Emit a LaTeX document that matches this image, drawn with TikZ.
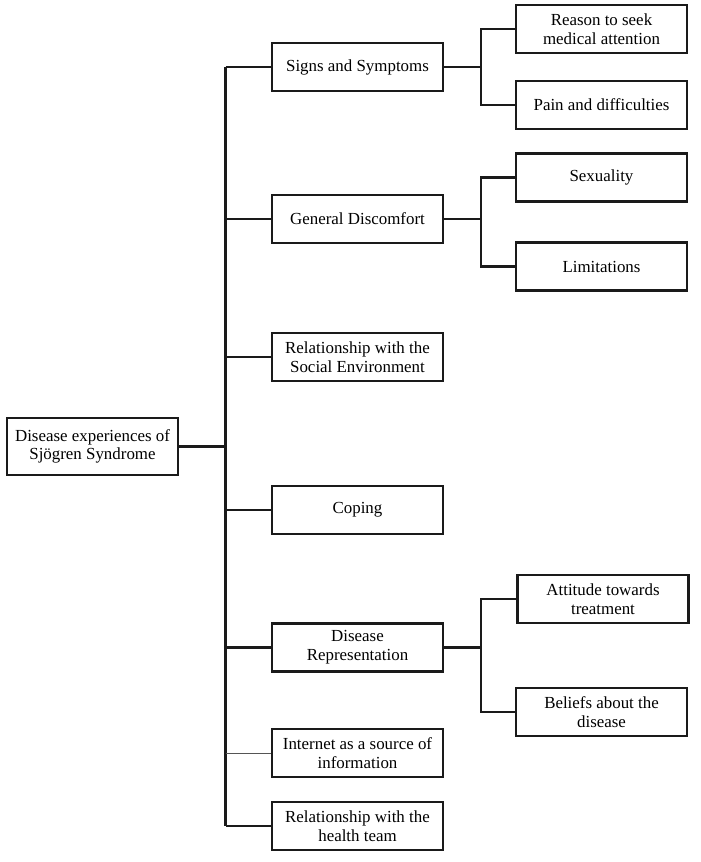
\documentclass[tikz,border=0pt]{standalone}
\usepackage{fontspec}
\setmainfont{Liberation Serif}
\usepackage{tikz}
\usepackage{xcolor}
\definecolor{vdarkgray}{HTML}{1a1a1a}
\definecolor{vthin}{HTML}{555555}

\begin{document}
\begin{tikzpicture}[x=1pt, y=-1pt,
		box/.style={draw=vdarkgray, line width=2.1pt, minimum width=171pt, minimum height=48pt, align=center, inner sep=2pt, font=\fontsize{16.9}{18.7}\selectfont},
		link/.style={color=vdarkgray, line width=2.1pt}]
		\useasboundingbox (0,0) rectangle (701,862);
		% root and main themes
		\node[box, minimum height=57pt] (root) at (92.5,446.5) {Disease experiences of\\Sjögren Syndrome};
		\node[box] (signs) at (357.5,67) {Signs and Symptoms};
		\node[box] (general) at (357.5,219) {General Discomfort};
		\node[box] (social) at (357.5,357) {Relationship with the\\Social Environment};
		\node[box] (coping) at (357.5,510) {Coping};
		\node[box] (repr) at (357.5,647.5) {Disease\\Representation};
		\node[box] (internet) at (357.5,753) {Internet as a source of\\information};
		\node[box] (team) at (357.5,826) {Relationship with the\\health team};
		% subthemes
		\node[box] (reason) at (601.5,29) {Reason to seek\\medical attention};
		\node[box] (pain) at (601.5,105) {Pain and difficulties};
		\node[box] (sexuality) at (601.5,177.5) {Sexuality};
		\node[box] (limits) at (601.5,266.5) {Limitations};
		\node[box] (attitude) at (603,599) {Attitude towards\\treatment};
		\node[box] (beliefs) at (601.5,712) {Beliefs about the\\disease};
		\coordinate (trunk) at (225.5,446.5);
		% connectors
		\draw[link] (root.east) -- (trunk);
		\draw[link] (trunk |- signs.west) -- (trunk |- team.west);
		\draw[link] (trunk |- signs.west) -- (signs.west);
		\draw[link] (trunk |- general.west) -- (general.west);
		\draw[link] (trunk |- social.west) -- (social.west);
		\draw[link] (trunk |- coping.west) -- (coping.west);
		\draw[link] (trunk |- repr.west) -- (repr.west);
		\draw[color=vthin, line width=0.7pt] (trunk |- internet.west) -- (internet.west);
		\draw[link] (trunk |- team.west) -- (team.west);
		\draw[link] (signs.east) -- ++(36.5,0) |- (reason.west);
		\draw[link] (signs.east) -- ++(36.5,0) |- (pain.west);
		\draw[link] (general.east) -- ++(36.5,0) |- (sexuality.west);
		\draw[link] (general.east) -- ++(36.5,0) |- (limits.west);
		\draw[link] (repr.east) -- ++(37,0) |- (attitude.west);
		\draw[link] (repr.east) -- ++(37,0) |- (beliefs.west);
	\end{tikzpicture}
\end{document}
